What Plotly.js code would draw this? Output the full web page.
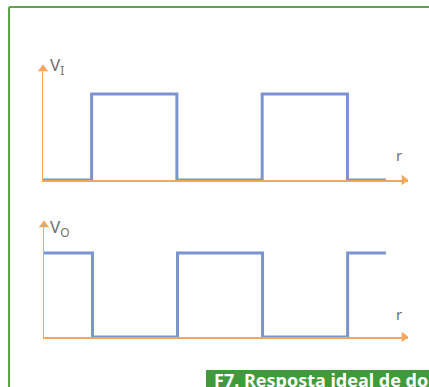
<!DOCTYPE html>
<html><head><meta charset="utf-8">
<script src="https://cdn.plot.ly/plotly-3.0.1.min.js"></script>
<style>html,body{margin:0;padding:0;background:#fff;overflow:hidden}</style>
</head><body><div id="chart" style="width:429px;height:387px"></div>
<script>
// data: switching instants (half-period units) and levels
const t  = [0, 0.57, 1.57, 2.57, 3.57, 4.02];
const vI = [0, 1, 0, 1, 0, 0];
const vO = [1, 0, 1, 0, 1, 1];
const labelTop = 'V<sub>I</sub>';
const labelBottom = 'V<sub>O</sub>';
const axisLabel = 'r';
const caption = '<b>F7. Resposta ideal de dois circuitos</b>';

const W = 429, H = 387;
const px = x => x / W, py = y => 1 - y / H;
const orange = '#f5a55c', blue = '#7b93cf', green = '#5ba646', gray = '#707070';
const xEnd = 4.28, yTop1 = 1.337, yTop2 = 1.38;
const dx = xEnd / 365 * 4, dy1 = yTop1 / 115 * 4, dy2 = yTop2 / 116 * 4;

const traces = [
  {x: t, y: vI, xaxis: 'x', yaxis: 'y', mode: 'lines', line: {shape: 'hv', color: blue, width: 3}, hoverinfo: 'skip'},
  {x: t, y: vO, xaxis: 'x2', yaxis: 'y2', mode: 'lines', line: {shape: 'hv', color: blue, width: 3}, hoverinfo: 'skip'},
  // arrowheads at the ends of the axes
  {x: [xEnd - dx], y: [0], xaxis: 'x', yaxis: 'y', mode: 'markers', cliponaxis: false, marker: {symbol: 'triangle-right', size: 9, color: orange}, hoverinfo: 'skip'},
  {x: [0], y: [yTop1 - dy1], xaxis: 'x', yaxis: 'y', mode: 'markers', cliponaxis: false, marker: {symbol: 'triangle-up', size: 9, color: orange}, hoverinfo: 'skip'},
  {x: [xEnd - dx], y: [0], xaxis: 'x2', yaxis: 'y2', mode: 'markers', cliponaxis: false, marker: {symbol: 'triangle-right', size: 9, color: orange}, hoverinfo: 'skip'},
  {x: [0], y: [yTop2 - dy2], xaxis: 'x2', yaxis: 'y2', mode: 'markers', cliponaxis: false, marker: {symbol: 'triangle-up', size: 9, color: orange}, hoverinfo: 'skip'}
];

const axBase = {showgrid: false, zeroline: false, showticklabels: false, ticks: '', showline: true, linecolor: orange, linewidth: 1.5, layer: 'below traces', fixedrange: true};

const layout = {
  width: W, height: H, margin: {l: 0, r: 0, t: 0, b: 0}, showlegend: false,
  paper_bgcolor: '#fff', plot_bgcolor: 'rgba(0,0,0,0)',
  xaxis:  Object.assign({}, axBase, {domain: [px(43), px(408)], range: [0, xEnd], anchor: 'y'}),
  yaxis:  Object.assign({}, axBase, {domain: [py(180), py(65)], range: [0, yTop1], anchor: 'x'}),
  xaxis2: Object.assign({}, axBase, {domain: [px(44), px(408)], range: [0, xEnd], anchor: 'y2'}),
  yaxis2: Object.assign({}, axBase, {domain: [py(337), py(221)], range: [0, yTop2], anchor: 'x2'}),
  shapes: [
    {type: 'line', xref: 'paper', yref: 'paper', x0: px(9), x1: px(9), y0: py(7), y1: -0.1, line: {color: green, width: 2}},
    {type: 'line', xref: 'paper', yref: 'paper', x0: px(9), x1: 1.1, y0: py(7), y1: py(7), line: {color: green, width: 2}},
    {type: 'rect', xref: 'paper', yref: 'paper', x0: px(206), x1: 1.1, y0: py(370), y1: -0.1, fillcolor: '#3f9a3c', line: {width: 0}}
  ],
  annotations: [
    {xref: 'paper', yref: 'paper', x: px(48), y: py(51), xanchor: 'left', yanchor: 'top', text: labelTop, showarrow: false, font: {family: 'Noto Sans', size: 17, color: gray}},
    {xref: 'paper', yref: 'paper', x: px(48), y: py(213), xanchor: 'left', yanchor: 'top', text: labelBottom, showarrow: false, font: {family: 'Noto Sans', size: 17, color: gray}},
    {xref: 'paper', yref: 'paper', x: px(399), y: py(143), xanchor: 'center', yanchor: 'top', text: axisLabel, showarrow: false, font: {family: 'Noto Sans', size: 15, color: gray}},
    {xref: 'paper', yref: 'paper', x: px(399), y: py(302), xanchor: 'center', yanchor: 'top', text: axisLabel, showarrow: false, font: {family: 'Noto Sans', size: 15, color: gray}},
    {xref: 'paper', yref: 'paper', x: px(212), y: py(366), xanchor: 'left', yanchor: 'top', text: caption, showarrow: false, font: {family: 'Noto Sans', size: 18, color: '#ffffff'}}
  ]
};

Plotly.newPlot('chart', traces, layout, {displayModeBar: false, staticPlot: true});
</script></body></html>
